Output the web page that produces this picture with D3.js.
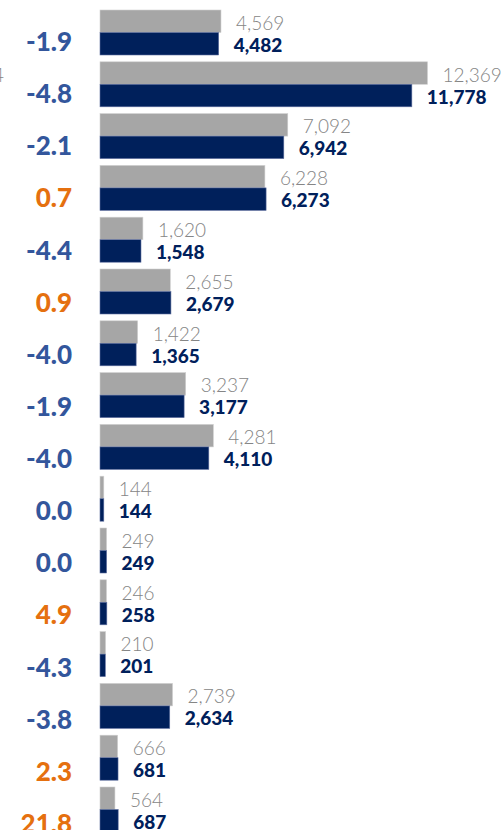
<!DOCTYPE html>
<html>
<head>
<meta charset="utf-8">
<script src="https://cdn.jsdelivr.net/npm/d3@7"></script>
<style>
  html, body { margin: 0; padding: 0; background: #fff; overflow: hidden; }
  svg { display: block; font-family: Lato, "Open Sans", sans-serif; }
</style>
</head>
<body>
<svg id="chart" width="503" height="830"></svg>
<script>
// ---- Data ----
const rows = ["r1","r2","r3","r4","r5","r6","r7","r8","r9","r10","r11","r12","r13","r14","r15","r16"];
const previousValues = [4569, 12369, 7092, 6228, 1620, 2655, 1422, 3237, 4281, 144, 249, 246, 210, 2739, 666, 564];
const currentValues  = [4482, 11778, 6942, 6273, 1548, 2679, 1365, 3177, 4110, 144, 249, 258, 201, 2634, 681, 687];
const changePct      = [-1.9, -4.8, -2.1, 0.7, -4.4, 0.9, -4.0, -1.9, -4.0, 0.0, 0.0, 4.9, -4.3, -3.8, 2.3, 21.8];
const clippedLeftLabel = "4";

// ---- Layout ----
const svg = d3.select("#chart");
const x0 = 100;
const pitch = 51.8, groupH = 45;
const x = d3.scaleLinear().domain([0, 12369]).range([x0, 427.5]);
const y = d3.scaleBand().domain(rows)
  .range([10, 10 + pitch * (rows.length - 1) + groupH])
  .paddingInner((pitch - groupH) / pitch).paddingOuter(0).align(0);
const barH = y.bandwidth() / 2;
// percentage column sits in its own slightly taller rows
const yPct = d3.scalePoint().domain(rows).range([51, 833]);

const data = rows.map((r, i) => ({r, prev: previousValues[i], curr: currentValues[i], pct: changePct[i]}));
const fmt = d3.format(",");

const g = svg.append("g");
const row = g.selectAll("g.row").data(data).join("g").attr("class", "row")
  .attr("transform", d => `translate(0,${y(d.r)})`);

row.append("rect")
  .attr("x", x0).attr("y", 0)
  .attr("width", d => x(d.prev) - x0).attr("height", barH)
  .attr("fill", "#a6a6a6").attr("stroke", "#d0d0d0").attr("stroke-width", 0.6);

row.append("rect")
  .attr("x", x0).attr("y", barH)
  .attr("width", d => x(d.curr) - x0).attr("height", barH)
  .attr("fill", "#00205b").attr("stroke", "#6070a0").attr("stroke-width", 0.6);

row.append("text")
  .attr("x", d => x(d.prev) + 15).attr("y", barH / 2 + 8.5)
  .attr("fill", "#858585").attr("font-size", 19).attr("font-weight", 300)
  .text(d => fmt(d.prev));

row.append("text")
  .attr("x", d => x(d.curr) + 15).attr("y", barH * 1.5 + 8)
  .attr("fill", "#00205b").attr("font-size", 19).attr("font-weight", 900)
  .text(d => fmt(d.curr));

g.selectAll("text.pct").data(data).join("text").attr("class", "pct")
  .attr("x", 72).attr("y", d => yPct(d.r)).attr("text-anchor", "end")
  .attr("fill", d => d.pct > 0 ? "#e5700f" : "#33569c")
  .attr("font-size", 26).attr("font-weight", 900)
  .text(d => d.pct.toFixed(1));

// clipped label at the far left edge
svg.append("text")
  .attr("x", 4).attr("y", y("r2") + barH / 2 + 8.5).attr("text-anchor", "end")
  .attr("fill", "#858585").attr("font-size", 19).attr("font-weight", 300)
  .text(clippedLeftLabel);
</script>
</body>
</html>
